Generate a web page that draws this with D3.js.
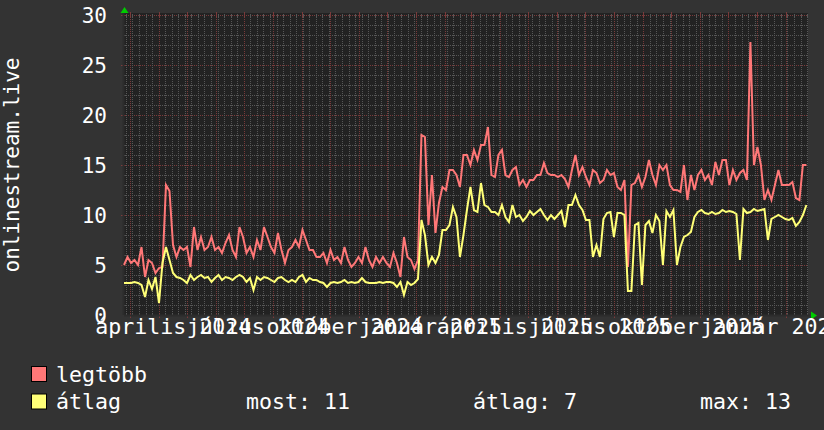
<!DOCTYPE html>
<html>
<head>
<meta charset="utf-8">
<script src="https://cdn.jsdelivr.net/npm/d3@7"></script>
<style>
    body { margin: 0; background: #333333; }
    svg { display: block; }
    text { font-family: "DejaVu Sans Mono", monospace; fill: #ffffff; }
</style>
</head>
<body>
<svg id="chart"></svg>
<script>
// time range of the graph and spacing of the samples (days)
var startDate = new Date(2024, 1, 24),
    endDate = new Date(2026, 1, 24),
    stepDays = 3.74;

// legtöbb (max per sample)
var legtobb = [
    5.0, 5.8, 5.2, 5.5, 5.0, 6.8, 3.8, 5.5, 5.2, 4.2,
    4.7, 4.8, 13.0, 12.4, 7.0, 5.8, 6.8, 6.5, 6.8, 4.8,
    8.8, 6.5, 7.8, 6.5, 6.8, 7.8, 6.5, 6.8, 6.2, 7.2,
    8.0, 6.5, 5.8, 8.8, 7.8, 6.2, 6.8, 5.8, 7.5, 6.5,
    8.8, 7.8, 6.8, 6.2, 8.2, 6.5, 5.2, 6.5, 6.8, 7.5,
    6.8, 8.5, 7.5, 6.5, 6.5, 5.8, 5.8, 6.2, 5.2, 6.5,
    5.5, 5.8, 5.2, 6.8, 5.5, 4.8, 5.2, 5.8, 5.2, 6.8,
    5.5, 4.8, 5.8, 5.2, 5.8, 5.2, 4.8, 6.2, 5.2, 3.8,
    7.8, 5.8, 5.5, 4.6, 5.5, 18.0, 17.8, 9.0, 14.0, 8.2,
    11.2, 12.8, 12.5, 14.5, 14.5, 14.0, 12.8, 16.0, 16.0, 15.0,
    16.5, 15.5, 17.0, 17.0, 18.8, 14.0, 13.8, 16.0, 16.5, 14.0,
    13.8, 14.5, 14.8, 13.0, 13.5, 12.8, 13.5, 13.5, 14.0, 14.0,
    15.2, 14.2, 14.0, 14.0, 13.8, 14.0, 13.6, 12.8, 14.5, 16.0,
    14.0, 14.8, 13.8, 13.0, 14.5, 14.2, 13.2, 13.5, 14.5, 14.0,
    14.2, 12.8, 12.5, 13.5, 4.8, 13.0, 13.2, 14.0, 12.8, 13.8,
    15.5, 14.0, 13.0, 15.0, 14.5, 15.0, 13.0, 12.5, 12.5, 12.3,
    15.0, 11.5, 14.0, 12.5, 14.0, 14.5, 13.5, 14.0, 13.0, 15.3,
    14.0, 15.5, 15.5, 13.0, 14.5, 13.5, 14.2, 14.5, 13.5, 27.3,
    15.0, 16.8, 15.0, 11.5, 12.5, 11.5, 13.0, 14.5, 13.0, 13.0,
    13.0, 13.3, 11.7, 11.5, 15.0, 15.0
];

// átlag (average per sample)
var atlag = [
    3.2, 3.2, 3.2, 3.3, 3.2, 3.0, 1.8, 3.5, 2.6, 3.8,
    1.2, 5.2, 6.8, 5.5, 4.2, 3.8, 3.7, 3.5, 3.2, 4.0,
    3.5, 3.8, 4.0, 3.7, 3.8, 3.3, 3.7, 4.0, 3.5, 3.8,
    3.7, 3.5, 3.8, 4.0, 3.8, 3.3, 3.7, 2.5, 3.8, 3.5,
    3.8, 3.7, 3.5, 3.3, 3.7, 3.8, 3.5, 3.3, 3.5, 3.3,
    3.8, 4.0, 3.3, 3.7, 3.5, 3.5, 3.3, 3.2, 2.8, 3.2,
    3.3, 3.2, 3.3, 3.5, 3.2, 3.3, 3.2, 3.3, 3.7, 3.3,
    3.2, 3.2, 3.2, 3.3, 3.2, 3.3, 3.3, 3.2, 2.8, 3.3,
    2.0, 3.3, 3.0, 3.2, 3.6, 9.5, 8.0, 5.0, 5.8, 5.2,
    6.0, 8.5, 8.5, 9.0, 10.8, 9.8, 5.8, 8.0, 10.5, 12.8,
    10.5, 10.3, 13.2, 11.0, 10.8, 10.3, 10.3, 10.0, 11.0, 9.8,
    9.3, 11.0, 9.8, 10.0, 9.4, 9.8, 10.4, 10.0, 10.3, 10.6,
    10.0, 9.5, 10.0, 9.6, 10.0, 10.4, 8.8, 11.0, 11.0, 12.0,
    11.0, 10.5, 9.5, 9.5, 5.8, 7.0, 5.8, 9.6, 10.2, 10.3,
    7.8, 10.2, 10.2, 10.0, 2.4, 2.4, 9.0, 9.2, 3.0, 9.0,
    9.4, 8.2, 10.0, 9.4, 5.0, 10.4, 9.8, 10.5, 5.0, 6.8,
    7.8, 8.0, 8.3, 9.8, 10.3, 10.5, 10.2, 10.1, 10.3, 10.1,
    10.2, 10.5, 10.3, 10.4, 10.3, 10.1, 5.5, 10.6, 10.2, 10.3,
    10.6, 10.4, 10.5, 10.6, 7.5, 9.6, 9.8, 10.0, 9.8, 9.6,
    9.5, 9.7, 8.9, 9.3, 10.0, 11.0
];

var yTicks = [0, 5, 10, 15, 20, 25, 30];
var monthNames = ["január", "február", "március", "április", "május", "június",
    "július", "augusztus", "szeptember", "október", "november", "december"];
var yTitle = "onlinestream.live";
var legendNames = ["legtöbb", "átlag"];
var legendStats = ["most: 11", "átlag: 7", "max: 13"];

var width = 824,
    height = 430,
    plotLeft = 124,
    plotRight = 808,
    plotTop = 15,
    plotBottom = 315;

var colors = ["#ff7777", "#ffff77"];
var labelSize = 21.6;

var svg = d3.select("#chart")
    .attr("width", width)
    .attr("height", height);

svg.append("rect")
    .attr("width", width)
    .attr("height", height)
    .attr("fill", "#333333");

var x = d3.scaleTime().domain([startDate, endDate]).range([plotLeft, plotRight]);
var y = d3.scaleLinear().domain([0, 30]).range([plotBottom, plotTop]);

// plot background
svg.append("rect")
    .attr("x", plotLeft)
    .attr("y", plotTop - 2)
    .attr("width", plotRight - plotLeft)
    .attr("height", plotBottom - plotTop + 2)
    .attr("fill", "#222222");

var grid = svg.append("g").attr("class", "grid");
var minorColor = "#575757",
    majorColor = "#7a3a3a";

// horizontal grid
d3.range(1, 31, 1).forEach(function (v) {
    var major = v % 5 === 0,
        py = Math.round(y(v)) + 0.5;
    grid.append("line")
        .attr("x1", plotLeft).attr("x2", plotRight)
        .attr("y1", py).attr("y2", py)
        .attr("stroke", major ? majorColor : minorColor)
        .attr("stroke-dasharray", "1,1");
    grid.append("line")
        .attr("x1", plotLeft - (major ? 3 : 1)).attr("x2", plotLeft + 2)
        .attr("y1", py).attr("y2", py)
        .attr("stroke", major ? majorColor : minorColor);
});

// vertical grid: weeks (minor) and months (major)
function vline(date, major) {
    var px = Math.round(x(date)) + 0.5;
    grid.append("line")
        .attr("x1", px).attr("x2", px)
        .attr("y1", plotTop).attr("y2", plotBottom)
        .attr("stroke", major ? majorColor : minorColor)
        .attr("stroke-dasharray", "1,1");
    grid.append("line")
        .attr("x1", px).attr("x2", px)
        .attr("y1", plotBottom - 2).attr("y2", plotBottom + (major ? 3 : 1))
        .attr("stroke", major ? majorColor : minorColor);
    grid.append("line")
        .attr("x1", px).attr("x2", px)
        .attr("y1", plotTop - (major ? 3 : 1)).attr("y2", plotTop + 2)
        .attr("stroke", major ? majorColor : minorColor);
}
d3.timeMonday.range(startDate, endDate).forEach(function (d) { vline(d, false); });
d3.timeMonth.range(startDate, endDate).forEach(function (d) { vline(d, true); });

// axis lines
svg.append("line")
    .attr("x1", plotLeft - 0.5).attr("x2", plotLeft - 0.5)
    .attr("y1", plotTop - 2).attr("y2", plotBottom)
    .attr("stroke", "#2c2c2c").attr("stroke-width", 2);
svg.append("line")
    .attr("x1", plotLeft).attr("x2", plotRight + 2)
    .attr("y1", plotBottom + 0.5).attr("y2", plotBottom + 0.5)
    .attr("stroke", "#2c2c2c").attr("stroke-width", 2);

// arrows
svg.append("path")
    .attr("d", "M" + (plotLeft - 3.5) + "," + (plotTop - 2) + "L" + (plotLeft + 0.5) + "," + (plotTop - 8) + "L" + (plotLeft + 4.5) + "," + (plotTop - 2) + "Z")
    .attr("fill", "#00cc00");
svg.append("path")
    .attr("d", "M" + (plotRight + 3) + "," + (plotBottom - 3.5) + "L" + (plotRight + 9) + "," + (plotBottom + 0.5) + "L" + (plotRight + 3) + "," + (plotBottom + 4.5) + "Z")
    .attr("fill", "#00cc00");

// series
var dates = legtobb.map(function (v, i) {
    return d3.timeHour.offset(startDate, Math.round(i * stepDays * 24));
});

var line = d3.line()
    .x(function (d) { return x(d[0]); })
    .y(function (d) { return y(d[1]); });

[legtobb, atlag].forEach(function (series, k) {
    svg.append("path")
        .datum(series.map(function (v, i) { return [dates[i], v]; }))
        .attr("d", line)
        .attr("fill", "none")
        .attr("stroke", colors[k])
        .attr("stroke-width", 2)
        .attr("stroke-linejoin", "miter");
});

// y axis labels
var yAxis = svg.append("g")
    .attr("transform", "translate(" + plotLeft + ",0)")
    .call(d3.axisLeft(y).tickValues(yTicks).tickSize(0).tickPadding(17));
yAxis.select(".domain").remove();
yAxis.selectAll("text")
    .attr("font-family", "DejaVu Sans Mono")
    .attr("font-size", 21)
    .attr("fill", "#ffffff")
    .attr("dy", "0.36em");

// x axis labels: "month year", centred half a month after each quarter start
var hu = d3.timeFormatLocale({
    dateTime: "%Y. %B %-e. %X",
    date: "%Y.%m.%d.",
    time: "%H:%M:%S",
    periods: ["de.", "du."],
    days: ["vasárnap", "hétfő", "kedd", "szerda", "csütörtök", "péntek", "szombat"],
    shortDays: ["V", "H", "K", "Sze", "Cs", "P", "Szo"],
    months: monthNames,
    shortMonths: monthNames.map(function (m) { return m.slice(0, 3); })
});
var labelDates = d3.timeMonth.every(3).range(startDate, endDate).map(function (d) {
    return d3.timeDay.offset(d, 15);
});
var xAxis = svg.append("g")
    .attr("transform", "translate(0," + plotBottom + ")")
    .call(d3.axisBottom(x).tickValues(labelDates).tickFormat(hu.format("%B %Y")).tickSize(0).tickPadding(4));
xAxis.select(".domain").remove();
xAxis.selectAll("text")
    .attr("font-family", "DejaVu Sans Mono")
    .attr("font-size", labelSize)
    .attr("fill", "#ffffff");

// vertical title
svg.append("text")
    .attr("transform", "translate(19," + ((plotTop + plotBottom) / 2) + ") rotate(-90)")
    .attr("text-anchor", "middle")
    .attr("font-size", 21)
    .text(yTitle);

// legend
var legend = svg.append("g");
legendNames.forEach(function (name, i) {
    var base = 381.5 + i * 27.5;
    legend.append("rect")
        .attr("x", 31.5).attr("y", base - 15)
        .attr("width", 15).attr("height", 15)
        .attr("fill", colors[i])
        .attr("stroke", "#000000");
    legend.append("text")
        .attr("x", 56).attr("y", base)
        .attr("font-size", labelSize)
        .text(name);
});
legendStats.forEach(function (s, i) {
    legend.append("text")
        .attr("x", 246 + i * 227)
        .attr("y", 409)
        .attr("font-size", labelSize)
        .text(s);
});
</script>
</body>
</html>
